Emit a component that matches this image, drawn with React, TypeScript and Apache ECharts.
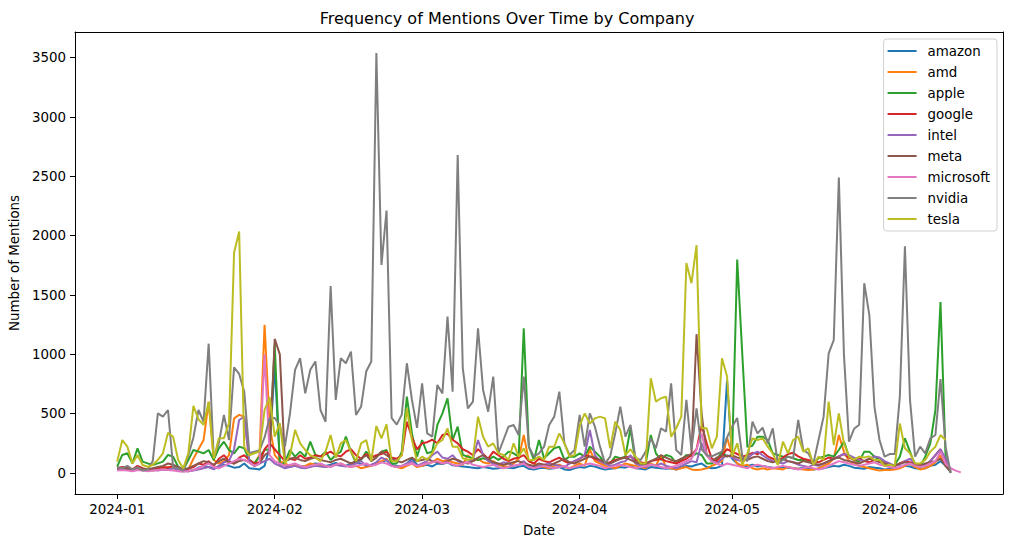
import React, { useEffect, useRef } from "react";
import * as echarts from "echarts";

const START_DATE = "2024-01-01";
const MONTH_TICKS = ["2024-01", "2024-02", "2024-03", "2024-04", "2024-05", "2024-06"];
const Y_TICKS = [0, 500, 1000, 1500, 2000, 2500, 3000, 3500];
const COMPANIES = ["amazon", "amd", "apple", "google", "intel", "meta", "microsoft", "nvidia", "tesla"];
const COLORS = ["#1f77b4", "#ff7f0e", "#2ca02c", "#d62728", "#9467bd", "#8c564b", "#e377c2", "#7f7f7f", "#bcbd22"];

// daily mentions, starting 2024-01-01
const amazon = [
  30, 40, 35, 25, 45, 30, 20, 25, 30, 40, 35, 50, 30, 20, 15, 25, 45, 60, 50, 40, 55, 70, 60, 45, 50, 80, 40, 35, 30, 60, 220,
  900, 100, 60, 50, 70, 60, 55, 70, 80, 75, 60, 70, 85, 70, 60, 80, 90, 75, 70, 65, 80, 90, 110, 70, 60, 55, 80, 120, 70,
  60, 70, 55, 80, 75, 90, 65, 60, 55, 50, 45, 40, 50, 45, 35, 40, 50, 45, 40, 55, 60, 35, 30, 40, 45, 35, 40, 50, 30, 25, 40,
  50, 45, 60, 55, 40, 30, 35, 40, 50, 45, 60, 40, 35, 30, 50, 45, 40, 35, 40, 30, 45, 60, 55, 70, 80, 50, 40, 45, 60, 780,
  120, 80, 50, 60, 70, 55, 60, 50, 45, 40, 50, 45, 40, 35, 45, 40, 30, 35, 40, 50, 60, 55, 70, 60, 45, 40, 35, 50, 45, 40, 30,
  35, 40, 45, 60, 55, 40, 35, 40, 60, 70, 100, 60, 10,
];
const amd = [
  40, 30, 45, 20, 35, 30, 25, 20, 30, 40, 50, 40, 30, 20, 30, 120, 200, 278, 600, 110, 80, 100, 150, 460, 490, 475, 100, 80, 150, 1250, 400,
  150, 100, 80, 60, 70, 50, 60, 80, 70, 60, 50, 60, 70, 80, 60, 50, 60, 40, 50, 60, 80, 100, 120, 60, 50, 40, 60, 80, 50,
  60, 80, 90, 120, 100, 110, 90, 80, 70, 150, 100, 120, 90, 80, 100, 70, 60, 50, 80, 120, 320, 100, 80, 60, 50, 40, 60, 70, 50, 40, 60,
  80, 60, 200, 100, 80, 60, 50, 40, 60, 80, 70, 60, 50, 40, 80, 60, 150, 50, 40, 30, 40, 50, 30, 25, 30, 40, 60, 80, 100, 300,
  150, 80, 60, 70, 40, 30, 40, 30, 40, 35, 30, 50, 40, 35, 30, 25, 30, 40, 60, 80, 120, 320, 180, 100, 80, 60, 50, 40, 30, 20, 25,
  25, 30, 40, 60, 80, 50, 30, 40, 60, 90, 150, 60, 20,
];
const apple = [
  53, 152, 166, 81, 208, 96, 81, 67, 81, 96, 152, 138, 53, 25, 110, 194, 180, 166, 194, 110, 208, 264, 194, 166, 222, 208, 110, 81, 138, 194, 200,
  1080, 60, 90, 194, 138, 180, 138, 264, 152, 138, 180, 110, 152, 180, 306, 180, 81, 110, 180, 138, 138, 180, 194, 81, 81, 180, 643, 334, 138,
  278, 166, 180, 405, 503, 630, 278, 390, 152, 138, 124, 110, 124, 110, 138, 110, 138, 180, 166, 138, 1220, 222, 110, 278, 124, 166, 208, 222, 110, 138, 138,
  166, 138, 222, 180, 138, 81, 81, 138, 124, 138, 377, 81, 67, 81, 320, 166, 110, 152, 138, 81, 110, 152, 138, 166, 152, 81, 81, 110, 180, 138,
  150, 1800, 1000, 220, 230, 306, 306, 278, 166, 152, 138, 138, 124, 110, 110, 96, 81, 124, 138, 152, 138, 194, 264, 138, 110, 96, 180, 180, 138, 110, 81,
  67, 70, 138, 292, 180, 67, 53, 138, 250, 531, 1440, 138, 0,
];
const google = [
  40, 50, 45, 30, 60, 40, 30, 35, 40, 50, 45, 60, 40, 30, 35, 50, 80, 70, 100, 60, 120, 150, 100, 80, 130, 150, 110, 80, 90, 200, 250,
  200, 150, 100, 120, 110, 150, 120, 130, 150, 140, 160, 180, 150, 140, 180, 200, 150, 120, 160, 130, 150, 160, 180, 130, 120, 150, 432, 300, 200,
  250, 260, 280, 250, 320, 330, 280, 250, 200, 180, 150, 200, 160, 120, 180, 150, 120, 100, 120, 130, 150, 100, 80, 120, 100, 90, 110, 130, 100, 80, 100,
  120, 150, 140, 120, 100, 80, 90, 110, 120, 130, 140, 110, 90, 80, 100, 110, 120, 100, 90, 80, 100, 120, 150, 200, 400, 250, 120, 100, 150, 200,
  180, 160, 140, 150, 170, 160, 180, 140, 120, 100, 130, 160, 170, 140, 120, 110, 100, 90, 110, 130, 120, 140, 160, 130, 110, 120, 100, 90, 110, 100, 80,
  70, 60, 80, 100, 90, 80, 70, 60, 100, 150, 200, 100, 20,
];
const intel = [
  30, 25, 30, 20, 25, 30, 20, 25, 20, 30, 25, 40, 30, 20, 15, 20, 30, 40, 50, 30, 60, 90, 100, 200, 447, 475, 100, 60, 80, 100, 120,
  80, 60, 40, 50, 60, 45, 40, 50, 60, 55, 50, 60, 70, 60, 55, 70, 80, 100, 60, 70, 90, 130, 110, 60, 50, 60, 80, 100, 60,
  80, 100, 150, 180, 130, 120, 150, 100, 80, 90, 120, 278, 150, 100, 80, 70, 90, 80, 60, 70, 100, 60, 50, 60, 70, 80, 70, 60, 50, 80, 100,
  120, 150, 363, 150, 100, 80, 60, 70, 90, 100, 150, 80, 60, 50, 70, 60, 80, 60, 50, 40, 60, 80, 100, 90, 250, 150, 100, 80, 120, 150,
  130, 110, 100, 120, 160, 180, 150, 120, 100, 90, 80, 100, 90, 70, 60, 50, 70, 60, 80, 100, 120, 140, 160, 150, 130, 110, 100, 120, 140, 130, 100,
  80, 60, 70, 100, 120, 80, 60, 70, 100, 150, 200, 120, 20,
];
const meta = [
  40, 35, 40, 30, 45, 35, 30, 40, 50, 60, 80, 70, 50, 30, 40, 60, 80, 100, 90, 70, 100, 120, 90, 80, 100, 110, 90, 60, 80, 150, 180,
  1130, 1000, 100, 120, 130, 110, 100, 120, 130, 110, 100, 90, 110, 120, 100, 80, 100, 120, 150, 100, 130, 180, 150, 120, 100, 90, 110, 130, 100,
  110, 120, 100, 90, 80, 100, 120, 110, 90, 80, 100, 130, 150, 120, 90, 80, 70, 80, 90, 100, 80, 70, 60, 80, 70, 60, 80, 100, 120, 90, 80,
  100, 120, 140, 130, 110, 90, 80, 100, 120, 130, 110, 90, 80, 70, 100, 120, 150, 130, 110, 100, 120, 140, 160, 1170, 500, 150, 100, 130, 150, 140,
  150, 130, 120, 110, 130, 140, 120, 100, 90, 110, 120, 100, 90, 80, 100, 90, 80, 70, 80, 100, 120, 130, 110, 100, 90, 80, 100, 120, 110, 90, 80,
  70, 60, 80, 90, 80, 70, 60, 80, 90, 100, 120, 60, 10,
];
const microsoft = [
  20, 25, 20, 15, 25, 20, 15, 20, 25, 30, 25, 20, 15, 10, 15, 25, 40, 60, 80, 50, 40, 60, 80, 100, 120, 110, 90, 60, 80, 1000, 150,
  100, 80, 60, 70, 80, 60, 50, 60, 70, 80, 60, 50, 70, 80, 60, 50, 60, 70, 80, 60, 70, 90, 80, 60, 50, 60, 70, 80, 60,
  70, 80, 90, 100, 80, 90, 70, 60, 80, 90, 70, 60, 50, 60, 70, 50, 40, 50, 60, 70, 80, 50, 40, 50, 60, 50, 40, 50, 60, 40, 50,
  60, 70, 80, 70, 60, 40, 50, 60, 70, 60, 50, 40, 50, 60, 70, 60, 50, 40, 50, 60, 80, 100, 120, 200, 334, 150, 100, 80, 60, 80,
  70, 60, 50, 40, 60, 70, 60, 50, 40, 50, 60, 50, 40, 30, 40, 50, 40, 30, 40, 60, 80, 100, 90, 80, 70, 60, 70, 80, 90, 70, 60,
  50, 40, 50, 70, 80, 60, 50, 60, 80, 100, 180, 80, 40, 20, 5,
];
const nvidia = [
  50, 40, 60, 30, 50, 20, 30, 100, 503, 475, 531, 50, 40, 20, 150, 300, 531, 430, 1090, 130, 250, 489, 278, 890, 835, 686, 166, 180, 190, 300, 464,
  464, 400, 222, 500, 870, 967, 671, 870, 940, 531, 432, 1575, 616, 967, 925, 1023, 489, 560, 855, 940, 3540, 1754, 2212, 464, 408, 492, 925, 616, 380,
  756, 334, 306, 742, 671, 1318, 686, 2680, 884, 545, 602, 1220, 700, 517, 813, 166, 278, 390, 405, 320, 813, 222, 138, 166, 222, 405, 475, 686, 250, 152, 194,
  489, 222, 503, 390, 222, 81, 138, 334, 559, 306, 405, 124, 110, 180, 292, 208, 377, 349, 756, 194, 152, 616, 194, 545, 200, 150, 140, 160, 180, 300,
  390, 464, 138, 100, 432, 334, 382, 250, 377, 81, 110, 138, 124, 447, 194, 166, 81, 278, 475, 1009, 1121, 2490, 1000, 264, 373, 407, 1600, 1330, 560, 278, 138,
  160, 160, 643, 1910, 616, 138, 222, 166, 292, 320, 792, 222, 0,
];
const tesla = [
  96, 278, 222, 81, 152, 67, 53, 67, 110, 166, 340, 306, 110, 39, 166, 565, 452, 405, 600, 120, 292, 292, 420, 1857, 2035, 220, 150, 166, 180, 531, 640,
  306, 420, 81, 150, 363, 250, 194, 150, 130, 100, 180, 320, 130, 250, 278, 180, 100, 250, 278, 100, 396, 292, 410, 100, 100, 150, 545, 278, 96,
  138, 110, 166, 250, 278, 375, 222, 222, 124, 110, 124, 475, 306, 222, 250, 166, 152, 110, 250, 138, 208, 110, 110, 138, 110, 222, 222, 334, 250, 138, 152,
  400, 503, 417, 460, 475, 460, 208, 432, 363, 152, 200, 138, 81, 81, 798, 602, 630, 643, 306, 377, 475, 1770, 1600, 1920, 377, 377, 208, 306, 967, 815,
  140, 250, 67, 166, 292, 278, 292, 222, 166, 67, 264, 166, 278, 306, 180, 208, 67, 138, 110, 602, 236, 503, 250, 138, 110, 138, 130, 140, 110, 110, 60,
  70, 60, 417, 208, 166, 81, 81, 110, 180, 222, 320, 278,
];

const SERIES_VALUES = [amazon, amd, apple, google, intel, meta, microsoft, nvidia, tesla];

const DAY_MS = 86400000;
const START_MS = Date.parse(START_DATE + "T00:00:00Z");
const dayOf = (iso: string) => Math.round((Date.parse(iso + "T00:00:00Z") - START_MS) / DAY_MS);
const MONTH_POS = MONTH_TICKS.map((m) => dayOf(m + "-01"));

const FONT = "DejaVu Sans";

export default function App() {
  const ref = useRef<HTMLDivElement>(null);
  useEffect(() => {
    if (!ref.current) return;
    const chart = echarts.init(ref.current, null, { renderer: "svg" });
    const lastDay = Math.max(...SERIES_VALUES.map((s) => s.length - 1));
    const xPad = lastDay * 0.05;
    const yMaxData = Math.max(...SERIES_VALUES.map((s) => Math.max(...s)));
    const yPad = yMaxData * 0.05;
    const xMin = -xPad;
    const xMax = lastDay + xPad;
    const yMin = -yPad;
    const yMax = yMaxData + yPad;

    const frameAxis = {
      axisLine: { show: true, onZero: false, lineStyle: { color: "#000", width: 1 } },
      axisTick: { show: false },
      axisLabel: { show: false },
      splitLine: { show: false },
    };

    chart.setOption({
      animation: false,
      backgroundColor: "#fff",
      title: {
        text: "Frequency of Mentions Over Time by Company",
        left: "center",
        top: 5,
        textStyle: { fontFamily: FONT, fontSize: 16, fontWeight: "normal", color: "#000" },
      },
      legend: {
        orient: "vertical",
        right: 17,
        top: 39,
        icon: "rect",
        itemWidth: 29,
        itemHeight: 2,
        itemGap: 7,
        padding: [5, 7, 5, 4],
        borderColor: "#d0d0d0",
        borderWidth: 1,
        borderRadius: 3,
        backgroundColor: "rgba(255,255,255,0.8)",
        textStyle: { fontFamily: FONT, fontSize: 13.4, color: "#000", lineHeight: 14, padding: [0, 0, 0, 6] },
        data: COMPANIES,
      },
      grid: { left: 75, right: 11, top: 32, bottom: 53, containLabel: false },
      xAxis: [
        {
          type: "value",
          min: xMin,
          max: xMax,
          name: "Date",
          nameLocation: "middle",
          nameGap: 30,
          nameTextStyle: { fontFamily: FONT, fontSize: 13.4, color: "#000" },
          axisLine: { show: true, onZero: false, lineStyle: { color: "#000", width: 1 } },
          axisTick: { show: true, length: 5, lineStyle: { color: "#000" }, customValues: MONTH_POS },
          axisLabel: {
            fontFamily: FONT,
            fontSize: 13.4,
            color: "#000",
            margin: 9,
            customValues: MONTH_POS,
            formatter: (v: number) => {
              const i = MONTH_POS.indexOf(Math.round(v));
              return i >= 0 ? MONTH_TICKS[i] : "";
            },
          },
          splitLine: { show: false },
        },
        { type: "value", position: "top", min: xMin, max: xMax, ...frameAxis },
      ],
      yAxis: [
        {
          type: "value",
          min: yMin,
          max: yMax,
          name: "Number of Mentions",
          nameLocation: "middle",
          nameRotate: 90,
          nameGap: 50,
          nameTextStyle: { fontFamily: FONT, fontSize: 13.4, color: "#000" },
          axisLine: { show: true, onZero: false, lineStyle: { color: "#000", width: 1 } },
          axisTick: { show: true, length: 5, lineStyle: { color: "#000" }, customValues: Y_TICKS },
          axisLabel: {
            fontFamily: FONT,
            fontSize: 13.4,
            color: "#000",
            margin: 9,
            customValues: Y_TICKS,
            formatter: (v: number) => String(Math.round(v)),
          },
          splitLine: { show: false },
        },
        { type: "value", position: "right", min: yMin, max: yMax, ...frameAxis },
      ],
      series: COMPANIES.map((name, k) => ({
        name,
        type: "line",
        xAxisIndex: 0,
        yAxisIndex: 0,
        showSymbol: false,
        symbol: "none",
        color: COLORS[k],
        lineStyle: { width: 2, color: COLORS[k] },
        data: SERIES_VALUES[k].map((v, i) => [i, v]),
      })),
    });
    return () => chart.dispose();
  }, []);
  return <div ref={ref} style={{ position: "fixed", left: 0, top: 0, width: 1014, height: 547 }} />;
}
